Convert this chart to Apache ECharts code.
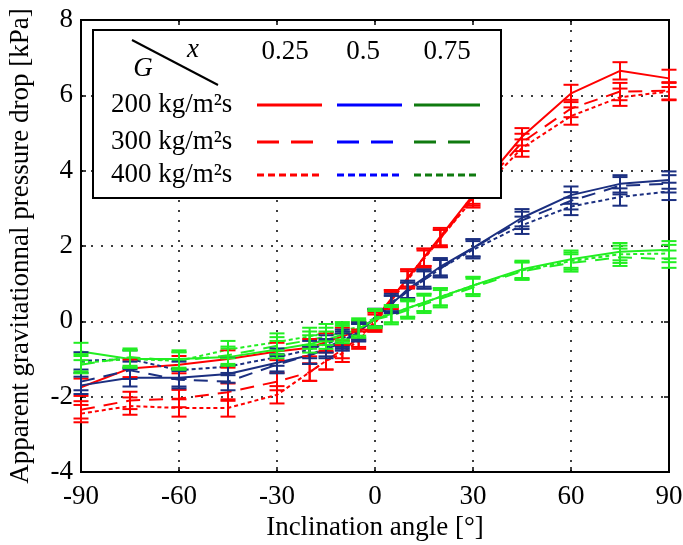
<!DOCTYPE html>
<html><head><meta charset="utf-8">
<script src="https://cdn.jsdelivr.net/npm/echarts@6/dist/echarts.min.js"></script>
<style>html,body{margin:0;padding:0;background:#fff}#c{width:683px;height:545px}</style>
</head><body><div id="c"></div>
<script>
// ---- data ----
const angles = [-90,-75,-60,-45,-30,-20,-15,-10,-5,0,5,10,15,20,30,45,60,75,90];
const qualities = ['0.25','0.5','0.75'];
const fluxes = ['200 kg/m²s','300 kg/m²s','400 kg/m²s'];

const x025_G200 = [-1.75,-1.25,-1.15,-1.0,-0.8,-0.7,-0.55,-0.4,-0.25,0.05,0.6,1.15,1.7,2.25,3.35,4.9,6.05,6.65,6.45];
const x025_G300 = [-2.35,-2.1,-2.05,-1.88,-1.6,-1.35,-1.05,-0.75,-0.45,0.0,0.6,1.15,1.7,2.2,3.3,4.75,5.65,6.1,6.12];
const x025_G400 = [-2.45,-2.25,-2.3,-2.3,-1.95,-1.35,-1.05,-0.85,-0.5,-0.05,0.55,1.1,1.65,2.2,3.25,4.6,5.45,5.95,6.1];

const x05_G200 = [-1.7,-1.5,-1.5,-1.4,-1.1,-0.9,-0.75,-0.55,-0.3,0.1,0.45,0.85,1.15,1.45,1.95,2.75,3.35,3.65,3.75];
const x05_G300 = [-1.6,-1.3,-1.55,-1.6,-1.15,-0.9,-0.7,-0.5,-0.3,0.1,0.45,0.8,1.1,1.4,1.95,2.68,3.2,3.6,3.65];
const x05_G400 = [-1.05,-1.0,-1.3,-1.2,-0.95,-0.75,-0.6,-0.45,-0.25,0.1,0.5,0.8,1.1,1.4,1.9,2.55,3.05,3.3,3.45];

const x075_G200 = [-0.8,-1.0,-1.0,-0.95,-0.75,-0.6,-0.5,-0.35,-0.2,0.05,0.2,0.35,0.5,0.65,0.95,1.38,1.65,1.85,1.9];
const x075_G300 = [-1.15,-0.95,-1.05,-0.9,-0.65,-0.5,-0.4,-0.3,-0.2,0.05,0.15,0.3,0.45,0.6,0.9,1.33,1.55,1.7,1.65];
const x075_G400 = [-1.1,-1.0,-1.05,-0.75,-0.55,-0.4,-0.3,-0.25,-0.15,0.1,0.2,0.35,0.5,0.65,0.95,1.35,1.6,1.78,1.8];

const errHalf = 0.23;
const xTickValues = [-90,-60,-30,0,30,60,90];
const yTickValues = [-4,-2,0,2,4,6,8];

// ---- styles ----
const FONT = 'Liberation Serif';
const plotColors = ['#ff0000', '#1b2f80', '#22ee22'];
const legendColors = ['#ff0000', '#0000ff', '#0f7a0f'];
const dashTypes = ['solid', [14, 9], [4, 3]];

const seriesData = [
  [x025_G200, x025_G300, x025_G400],
  [x05_G200, x05_G300, x05_G400],
  [x075_G200, x075_G300, x075_G400]
];

const series = [];
seriesData.forEach((group, qi) => {
  group.forEach((vals, gi) => {
    series.push({
      type: 'line', name: qualities[qi] + ' ' + fluxes[gi],
      data: angles.map((a, i) => [a, vals[i]]),
      symbol: 'none', silent: true, z: 3,
      lineStyle: { color: plotColors[qi], width: 2, type: dashTypes[gi] }
    });
    series.push({
      type: 'custom', silent: true, z: 4,
      encode: { x: 0, y: 1 },
      data: angles.map((a, i) => [a, vals[i], errHalf]),
      renderItem: function (params, api) {
        const x = api.value(0), y = api.value(1), e = api.value(2);
        const top = api.coord([x, y + e]), bot = api.coord([x, y - e]);
        const w = 7.5;
        const st = { stroke: plotColors[qi], lineWidth: 2 };
        return { type: 'group', children: [
          { type: 'line', shape: { x1: top[0], y1: top[1], x2: bot[0], y2: bot[1] }, style: st },
          { type: 'line', shape: { x1: top[0] - w, y1: top[1], x2: top[0] + w, y2: top[1] }, style: st },
          { type: 'line', shape: { x1: bot[0] - w, y1: bot[1], x2: bot[0] + w, y2: bot[1] }, style: st }
        ]};
      }
    });
  });
});

// ---- legend as graphic ----
const LX = 93, LY = 30, LW = 408, LH = 168;
const colX = [[257, 322], [337, 402], [414, 480]];
const rowY = [105, 142, 175];
const colLabelX = [285, 363, 447];
const ZL = 200;
const legendEls = [
  { type: 'rect', z: ZL, shape: { x: LX, y: LY, width: LW, height: LH }, style: { fill: '#fff', stroke: '#000', lineWidth: 2 } },
  { type: 'line', z: ZL + 1, shape: { x1: 132, y1: 40, x2: 218, y2: 85 }, style: { stroke: '#000', lineWidth: 2 } },
  { type: 'text', z: ZL + 1, x: 193, y: 50, style: { text: 'x', font: 'italic 27px "' + FONT + '"', fill: '#000', align: 'center', verticalAlign: 'middle' } },
  { type: 'text', z: ZL + 1, x: 143, y: 69, style: { text: 'G', font: 'italic 27px "' + FONT + '"', fill: '#000', align: 'center', verticalAlign: 'middle' } }
];
qualities.forEach((q, i) => {
  legendEls.push({ type: 'text', z: ZL + 1, x: colLabelX[i], y: 52, style: { text: q, font: '27px "' + FONT + '"', fill: '#000', align: 'center', verticalAlign: 'middle' } });
});
const legendDash = ['solid', [22, 12], [7, 4]];
fluxes.forEach((f, gi) => {
  legendEls.push({ type: 'text', z: ZL + 1, x: 111, y: rowY[gi], style: { text: f, font: '27px "' + FONT + '"', fill: '#000', align: 'left', verticalAlign: 'middle' } });
  qualities.forEach((q, qi) => {
    legendEls.push({ type: 'line', z: ZL + 1, shape: { x1: colX[qi][0], y1: rowY[gi], x2: colX[qi][1], y2: rowY[gi] },
      style: { stroke: legendColors[qi], lineWidth: 3, lineDash: legendDash[gi] === 'solid' ? null : legendDash[gi] } });
  });
});

const dotted = { show: true, lineStyle: { color: '#000', type: [2, 8], width: 1.5 } };

const option = {
  animation: false,
  backgroundColor: '#fff',
  textStyle: { fontFamily: FONT },
  grid: { left: 81, right: 14, top: 20, bottom: 73, show: true, borderColor: '#000', borderWidth: 2,
    containLabel: false, outerBoundsMode: 'none' },
  xAxis: [{
    type: 'value', min: -90, max: 90, interval: 30,
    name: 'Inclination angle [°]', nameLocation: 'middle', nameGap: 38,
    nameTextStyle: { fontFamily: FONT, fontSize: 27, color: '#000' },
    axisLine: { show: true, onZero: false, lineStyle: { color: '#000', width: 2 } },
    axisTick: { show: true, inside: true, length: 5, lineStyle: { color: '#000', width: 1.5 } },
    axisLabel: { show: true, margin: 11, fontFamily: FONT, fontSize: 27, color: '#000',
      formatter: v => xTickValues.includes(v) ? String(v) : '' },
    splitLine: dotted
  }, {
    type: 'value', min: -90, max: 90, interval: 30, position: 'top',
    axisLine: { show: true, onZero: false, lineStyle: { color: '#000', width: 2 } },
    axisTick: { show: true, inside: true, length: 5, lineStyle: { color: '#000', width: 1.5 } },
    axisLabel: { show: false }, splitLine: { show: false }
  }],
  yAxis: [{
    type: 'value', min: -4, max: 8, interval: 2,
    name: 'Apparent gravitationnal pressure drop [kPa]', nameLocation: 'middle', nameGap: 47,
    nameTextStyle: { fontFamily: FONT, fontSize: 27, color: '#000' },
    axisLine: { show: true, onZero: false, lineStyle: { color: '#000', width: 2 } },
    axisTick: { show: true, inside: true, length: 5, lineStyle: { color: '#000', width: 1.5 } },
    axisLabel: { show: true, margin: 8, fontFamily: FONT, fontSize: 27, color: '#000',
      formatter: v => yTickValues.includes(v) ? String(v) : '' },
    splitLine: dotted
  }, {
    type: 'value', min: -4, max: 8, interval: 2, position: 'right',
    axisLine: { show: true, onZero: false, lineStyle: { color: '#000', width: 2 } },
    axisTick: { show: true, inside: true, length: 5, lineStyle: { color: '#000', width: 1.5 } },
    axisLabel: { show: false }, splitLine: { show: false }
  }],
  graphic: legendEls,
  series: series
};

const chart = echarts.init(document.getElementById('c'), null, { renderer: 'canvas' });
chart.setOption(option);
</script>
</body></html>
